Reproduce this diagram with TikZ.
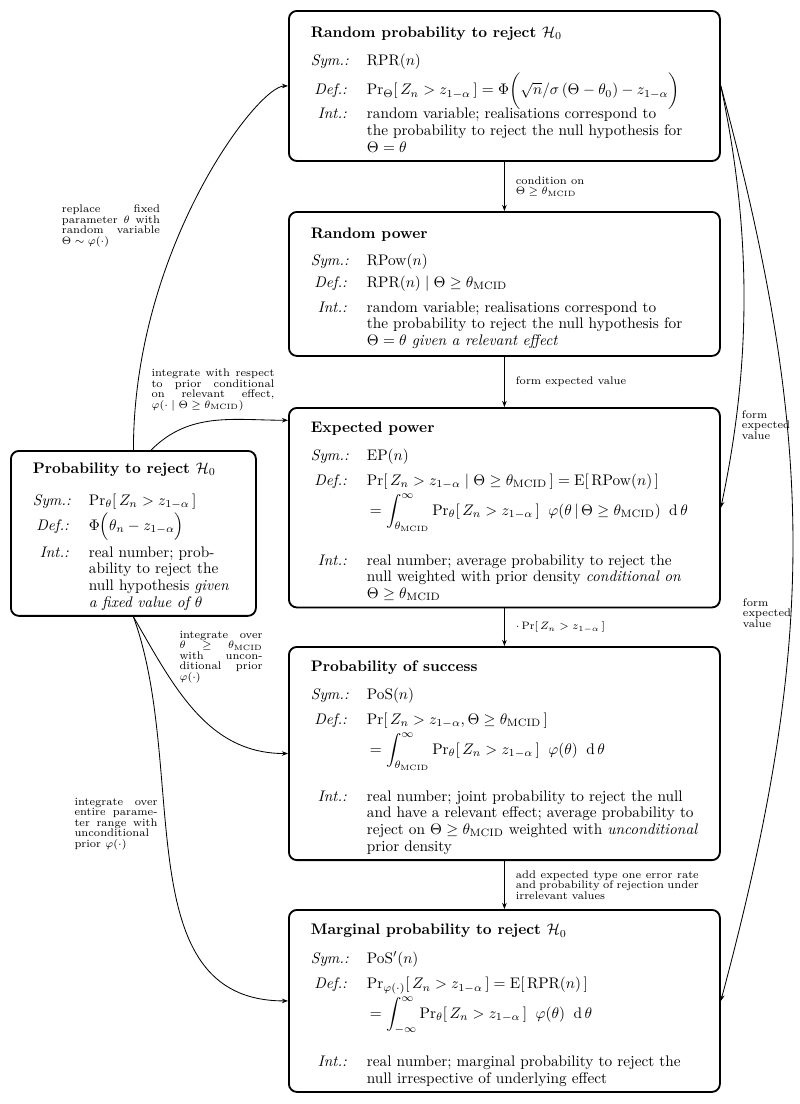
\documentclass[tikz,border=0pt]{standalone}
\usepackage{amsmath}
\usepackage{amssymb}
\usepackage{array}
\usetikzlibrary{arrows.meta,positioning}

\newlength{\px}
\setlength{\px}{0.654pt}
\newcommand{\mcid}{\theta_{\mathrm{MCID}}}
\newcommand{\Prb}{\mathrm{Pr}}
\newcolumntype{K}{>{\raggedleft\itshape}p{36\px}@{\hspace{20\px}}}
\newcolumntype{W}[1]{>{\raggedright\arraybackslash}p{#1}}

\begin{document}
\begin{tikzpicture}[x=1\px, y=-1\px, ->, >={Stealth[length=4pt,width=3pt]}, line width=0.55pt,
  infobox/.style={draw, line width=1.2pt, rounded corners=8\px, inner xsep=22\px, inner ysep=2.5pt,
    anchor=north west, font=\fontsize{10}{10.9}\selectfont},
  note/.style={font=\fontsize{7.2}{6.8}\selectfont, inner sep=0pt},
  block/.style={note, align=justify, text width=#1}]
\path[use as bounding box] (0,0) rectangle (800,1104);

% main column
\node[infobox, minimum height=148\px] (rpr) at (288,10) {%
  \begin{tabular}{@{}KW{346\px}@{\hspace{-15\px}}}
    \multicolumn{2}{@{}l@{}}{\rule{0pt}{22.5\px}\textbf{Random probability to reject $\mathcal{H}_0$}}\\[12\px]
    Sym.: & $\mathrm{RPR}(n)$\\[12.3\px]
    Def.: & \smash{$\Prb_{\Theta}[\,Z_n > z_{1-\alpha}\,] = \Phi\bigg(\sqrt{n}/\sigma\,(\Theta-\theta_0) - z_{1-\alpha}\bigg)$}\\[7.3\px]
    Int.: & random variable; realisations correspond to\newline the probability to reject the null hypothesis for\newline $\Theta=\theta$
  \end{tabular}};
\node[infobox, minimum height=144\px] (rpow) at (288,211) {%
  \begin{tabular}{@{}KW{346\px}@{\hspace{-15\px}}}
    \multicolumn{2}{@{}l@{}}{\rule{0pt}{21\px}\textbf{Random power}}\\[10.3\px]
    Sym.: & $\mathrm{RPow}(n)$\\[5.3\px]
    Def.: & $\mathrm{RPR}(n)\mid\Theta\geq\mcid$\\[8.3\px]
    Int.: & random variable; realisations correspond to\newline the probability to reject the null hypothesis for\newline $\Theta=\theta$ \emph{given a relevant effect}
  \end{tabular}};
\node[infobox, minimum height=199\px] (ep) at (288,407) {%
  \begin{tabular}{@{}KW{346\px}@{\hspace{-15\px}}}
    \multicolumn{2}{@{}l@{}}{\rule{0pt}{21\px}\textbf{Expected power}}\\[11.3\px]
    Sym.: & $\mathrm{EP}(n)$\\[8.3\px]
    Def.: & $\Prb[\,Z_n > z_{1-\alpha}\mid\Theta\geq\mcid\,] = \mathrm{E}[\,\mathrm{RPow}(n)\,]$\\[13.3\px]
          & \smash{\hspace{3\px}$\displaystyle = \int_{\mcid}^{\infty}\Prb_{\theta}[\,Z_n > z_{1-\alpha}\,]\;\;\varphi(\theta\,|\,\Theta\geq\mcid)\;\;\mathrm{d}\,\theta$}\\[33\px]
    Int.: & real number; average probability to reject the\newline null weighted with prior density \emph{conditional on}\newline $\Theta\geq\mcid$
  \end{tabular}};
\node[infobox, minimum height=212\px] (pos) at (288,646) {%
  \begin{tabular}{@{}KW{346\px}@{\hspace{-15\px}}}
    \multicolumn{2}{@{}l@{}}{\rule{0pt}{21\px}\textbf{Probability of success}}\\[11.3\px]
    Sym.: & $\mathrm{PoS}(n)$\\[8.3\px]
    Def.: & $\Prb[\,Z_n > z_{1-\alpha}, \Theta\geq\mcid\,]$\\[13.3\px]
          & \smash{\hspace{3\px}$\displaystyle = \int_{\mcid}^{\infty}\Prb_{\theta}[\,Z_n > z_{1-\alpha}\,]\;\;\varphi(\theta)\;\;\mathrm{d}\,\theta$}\\[30\px]
    Int.: & real number; joint probability to reject the null\newline and have a relevant effect; average probability to\newline reject on $\Theta\geq\mcid$ weighted with \emph{unconditional}\newline prior density
  \end{tabular}};
\node[infobox, minimum height=182\px] (mprob) at (288,909) {%
  \begin{tabular}{@{}KW{346\px}@{\hspace{-15\px}}}
    \multicolumn{2}{@{}l@{}}{\rule{0pt}{21\px}\textbf{Marginal probability to reject $\mathcal{H}_0$}}\\[11.3\px]
    Sym.: & $\mathrm{PoS}'(n)$\\[8.3\px]
    Def.: & $\Prb_{\varphi(\cdot)}[\,Z_n > z_{1-\alpha}\,] = \mathrm{E}[\,\mathrm{RPR}(n)\,]$\\[13.3\px]
          & \smash{\hspace{3\px}$\displaystyle = \int_{-\infty}^{\infty}\Prb_{\theta}[\,Z_n > z_{1-\alpha}\,]\;\;\varphi(\theta)\;\;\mathrm{d}\,\theta$}\\[31\px]
    Int.: & real number; marginal probability to reject the\newline null irrespective of underlying effect
  \end{tabular}};

% fixed parameter
\node[infobox, minimum height=162\px] (prob) at (10,450) {%
  \begin{tabular}{@{}KW{160\px}@{\hspace{-15\px}}}
    \multicolumn{2}{@{}l@{}}{\rule{0pt}{18.4\px}\textbf{Probability to reject $\mathcal{H}_0$}}\\[15.3\px]
    Sym.: & $\Prb_{\theta}[\,Z_n > z_{1-\alpha}\,]$\\[8.3\px]
    Def.: & \smash{$\Phi\Big(\theta_n - z_{1-\alpha}\Big)$}\\[10.3\px]
    Int.: & real number; prob-\newline ability to reject the\newline null hypothesis \emph{given}\newline \emph{a fixed value of $\theta$}
  \end{tabular}};

% labels
\node[block=98\px] (lrepl) at (111,226) {replace fixed\linebreak parameter $\theta$ with\linebreak random variable\linebreak $\Theta\sim\varphi(\cdot)$};
\node[block=123\px] (lcond) at (213,390) {integrate with respect\linebreak to prior conditional\linebreak on relevant effect,\linebreak $\varphi(\cdot\mid\Theta\geq\mcid)$};
\node[block=83\px] (lover) at (221,657) {integrate over\linebreak $\theta\geq\mcid$\linebreak with uncon-\linebreak ditional prior\linebreak $\varphi(\cdot)$};
\node[block=83\px] (lentire) at (116,824) {integrate over\linebreak entire parame-\linebreak ter range with\linebreak unconditional\linebreak prior $\varphi(\cdot)$};
\node[note, align=left] (lform) at (766,425) {form\\expected\\value};
\node[note, align=left] (lform2) at (767,613) {form\\expected\\value};

% arrows
\draw (rpr) -- node[note, right=11\px, align=left] {condition on\\$\Theta\geq\mcid$} (rpow);
\draw (rpow) -- node[note, right=11\px] {form expected value} (ep);
\draw (ep) -- node[note, right=11\px] {$\cdot\,\Prb[\,Z_n > z_{1-\alpha}\,]$} (pos);
\draw (pos) -- node[block=183\px, right=11\px] {add expected type one error rate\linebreak and probability of rejection under\linebreak irrelevant values} (mprob);
\draw (prob.north) to[out=90, in=180, out looseness=1.3, in looseness=0.2] (rpr.west);
\draw (prob.78) to[out=45, in=180] (ep.158);
\draw (prob.south) to[out=-60, in=180] (pos.west);
\draw (prob.south) to[out=-70, in=180] (mprob.west);
\draw (rpr.east) to[out=-78, in=78, looseness=0.9] (ep.east);
\draw (rpr.east) to[out=-75, in=75, looseness=1.04] (mprob.east);
\end{tikzpicture}
\end{document}
